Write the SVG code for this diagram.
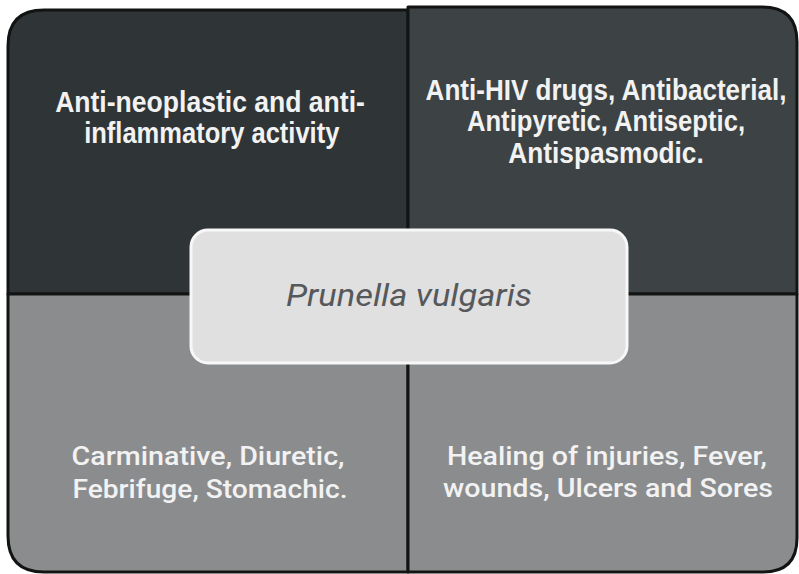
<svg xmlns="http://www.w3.org/2000/svg" width="799" height="574" viewBox="0 0 799 574">
<style>
.q{stroke:#121414;stroke-width:3;stroke-linejoin:round}
.tb{font-family:"Liberation Sans",Arial,sans-serif;font-weight:bold;font-size:30px;fill:#f2f2f2;text-anchor:middle}
.tr{font-family:Roboto,"Liberation Sans",sans-serif;font-weight:500;font-size:26px;fill:#f2f2f2;text-anchor:middle}
.tc{font-family:Roboto,"Liberation Sans",sans-serif;font-style:italic;font-size:31px;fill:#55595b;text-anchor:middle}
</style>
<rect width="799" height="574" fill="#ffffff"/>
<g id="q-top-left">
<path class="q" d="M8,46 Q8,10 44,10 L408,10 L408,294 L8,294 Z" fill="#2f3537"/>
<g transform="translate(210,0) scale(0.88,1)">
<text class="tb" x="0" y="112" textLength="352" lengthAdjust="spacingAndGlyphs">Anti-neoplastic and anti-</text>
<text class="tb" x="2" y="143" textLength="290" lengthAdjust="spacingAndGlyphs">inflammatory activity</text>
</g>
</g>
<g id="q-top-right">
<path class="q" d="M408,7 L762,7 Q797,7 797,42 L797,294 L408,294 Z" fill="#3d4344"/>
<g transform="translate(606,0) scale(0.88,1)">
<text class="tb" x="0" y="100" textLength="410" lengthAdjust="spacingAndGlyphs">Anti-HIV drugs, Antibacterial,</text>
<text class="tb" x="0" y="131" textLength="316" lengthAdjust="spacingAndGlyphs">Antipyretic, Antiseptic,</text>
<text class="tb" x="0" y="163" textLength="222" lengthAdjust="spacingAndGlyphs">Antispasmodic.</text>
</g>
</g>
<g id="q-bottom-left">
<path class="q" d="M8,294 L408,294 L408,572 L44,572 Q8,572 8,536 Z" fill="#8b8c8e"/>
<text class="tr" x="208" y="465" textLength="273" lengthAdjust="spacingAndGlyphs">Carminative, Diuretic,</text>
<text class="tr" x="210" y="498" textLength="275" lengthAdjust="spacingAndGlyphs">Febrifuge, Stomachic.</text>
</g>
<g id="q-bottom-right">
<path class="q" d="M408,294 L797,294 L797,538 Q797,572 763,572 L408,572 Z" fill="#8b8c8e"/>
<text class="tr" x="607" y="465" textLength="320" lengthAdjust="spacingAndGlyphs">Healing of injuries, Fever,</text>
<text class="tr" x="608" y="497" textLength="330" lengthAdjust="spacingAndGlyphs">wounds, Ulcers and Sores</text>
</g>
<g id="connectors"></g>
<g id="center">
<rect x="191" y="230" width="436" height="133" rx="17" fill="#e0e0e0" stroke="#f7f7f7" stroke-width="3"/>
<text class="tc" x="409" y="306" textLength="246" lengthAdjust="spacingAndGlyphs">Prunella vulgaris</text>
</g>
</svg>
